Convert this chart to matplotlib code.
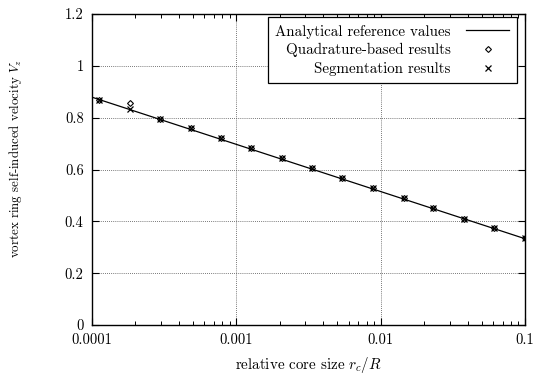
import matplotlib
matplotlib.use("Agg")
import matplotlib.pyplot as plt
from matplotlib.ticker import FixedLocator, FixedFormatter, LogLocator, NullFormatter

plt.rcParams['font.family'] = ['cmr10', 'DejaVu Serif']
plt.rcParams['mathtext.fontset'] = 'cm'
plt.rcParams['axes.formatter.use_mathtext'] = True

# Relative core sizes r_c/R
core_size = [1.12e-4, 1.83e-4, 2.96e-4, 4.83e-4, 7.8e-4, 1.27e-3, 2.06e-3,
             3.33e-3, 5.43e-3, 8.8e-3, 0.0144, 0.0232, 0.0377, 0.061, 0.1]
# Self-induced velocity from the segmentation approach
seg_vel = [0.868, 0.833, 0.795, 0.760, 0.723, 0.684, 0.646,
           0.607, 0.568, 0.529, 0.489, 0.450, 0.410, 0.373, 0.334]
# Self-induced velocity from the quadrature approach
quad_vel = [0.868, 0.855, 0.795, 0.760, 0.723, 0.684, 0.646,
            0.607, 0.568, 0.529, 0.489, 0.450, 0.410, 0.373, 0.334]
# Analytical reference curve (straight on a log axis)
ref_x = [1e-4, 0.1]
ref_v = [0.879, 0.333]

x_ticks = [1e-4, 1e-3, 1e-2, 1e-1]
x_tick_labels = ["0.0001", "0.001", "0.01", "0.1"]
y_ticks = [0, 0.2, 0.4, 0.6, 0.8, 1.0, 1.2]
y_tick_labels = ["0", "0.2", "0.4", "0.6", "0.8", "1", "1.2"]

fig = plt.figure(figsize=(5.42, 3.76), dpi=100)
ax = fig.add_axes([0.1697, 0.1356, 0.9686 - 0.1697, 0.9628 - 0.1356])

ax.plot(ref_x, ref_v, color='black', lw=0.9, label='Analytical reference values')
ax.plot(core_size, quad_vel, linestyle='none', marker='D', markersize=3,
        mfc='none', mec='black', mew=0.8, label='Quadrature-based results')
ax.plot(core_size, seg_vel, linestyle='none', marker='x', markersize=4.5,
        color='black', mew=0.9, label='Segmentation results')

ax.set_xscale('log')
ax.set_xlim(1e-4, 0.1)
ax.set_ylim(0, 1.2)
ax.xaxis.set_major_locator(FixedLocator(x_ticks))
ax.xaxis.set_major_formatter(FixedFormatter(x_tick_labels))
ax.xaxis.set_minor_locator(LogLocator(base=10, subs=range(2, 10), numticks=20))
ax.xaxis.set_minor_formatter(NullFormatter())
ax.yaxis.set_major_locator(FixedLocator(y_ticks))
ax.yaxis.set_major_formatter(FixedFormatter(y_tick_labels))

ax.tick_params(which='both', direction='in', top=True, right=True,
               labelsize=10.5, colors='black')
ax.tick_params(which='major', length=5, width=0.8, pad=6)
ax.tick_params(which='minor', length=3, width=0.7)
ax.grid(True, which='major', color='0.3', linestyle=(0, (1, 1.5)), lw=0.6)
for s in ax.spines.values():
    s.set_linewidth(1.0)
    s.set_color('black')

ax.set_xlabel(r'relative core size $r_c/R$', fontsize=10.8, labelpad=6)
ax.set_ylabel(r'vortex ring self-induced velocity $V_z$', fontsize=9.3)
ax.yaxis.set_label_coords(-0.156, 0.537)

leg = ax.legend(loc='upper right', bbox_to_anchor=(0.981, 0.99), borderaxespad=0,
                markerfirst=False, fancybox=False, framealpha=1, edgecolor='black',
                fontsize=10.8, handlelength=2.9, borderpad=0.5, labelspacing=0.3,
                handletextpad=1.0)
leg.get_frame().set_linewidth(0.9)

fig.savefig('out.png', dpi=100)
